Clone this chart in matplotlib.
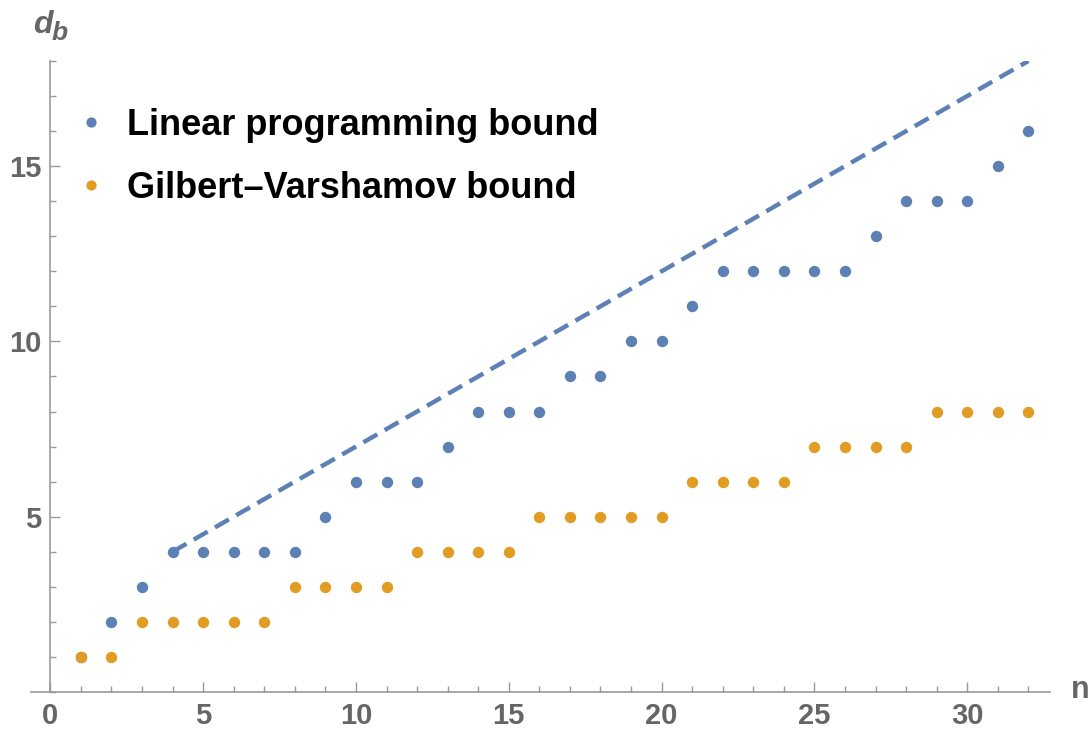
import matplotlib.pyplot as plt
from matplotlib.ticker import MultipleLocator

n = list(range(1, 33))
lp_bound = [1, 2, 3, 4, 4, 4, 4, 4, 5, 6, 6, 6, 7, 8, 8, 8,
            9, 9, 10, 10, 11, 12, 12, 12, 12, 12, 13, 14, 14, 14, 15, 16]
gv_bound = [1, 1, 2, 2, 2, 2, 2, 3, 3, 3, 3, 4, 4, 4, 4, 5,
            5, 5, 5, 5, 6, 6, 6, 6, 7, 7, 7, 7, 8, 8, 8, 8]
line_n = [4, 32]
line_d = [4, 18]

blue = '#5E81B5'
orange = '#E19C24'
gray = '#666666'

plt.rcParams['font.family'] = ['Liberation Sans', 'DejaVu Sans']
plt.rcParams['font.weight'] = 'bold'

fig = plt.figure(figsize=(10.92, 7.29), dpi=100)
ax = fig.add_axes([0.0284, 0.0508, 0.933, 0.8656])

ax.plot(line_n, line_d, color=blue, lw=3.2, ls=(0, (3.6, 1.9)), zorder=2)
ax.plot(n, lp_bound, 'o', color=blue, ms=8.2, mew=0, zorder=3,
        label='Linear programming bound')
ax.plot(n, gv_bound, 'o', color=orange, ms=8.2, mew=0, zorder=4,
        label='Gilbert\u2013Varshamov bound')

ax.set_xlim(-0.63, 32.7)
ax.set_ylim(0, 18)

for s in ['top', 'right']:
    ax.spines[s].set_visible(False)
ax.spines['left'].set_position(('data', 0))
ax.spines['bottom'].set_position(('data', 0))
for s in ['left', 'bottom']:
    ax.spines[s].set_color('#999999')
    ax.spines[s].set_linewidth(1.2)

ax.xaxis.set_major_locator(MultipleLocator(5))
ax.xaxis.set_minor_locator(MultipleLocator(1))
ax.yaxis.set_minor_locator(MultipleLocator(1))
ax.set_yticks([5, 10, 15])
ax.tick_params(which='both', direction='in', color='#999999', width=1,
               labelsize=21, labelcolor=gray)
ax.tick_params(which='major', length=7)
ax.tick_params(which='minor', length=4)
ax.tick_params(axis='x', pad=7)
ax.tick_params(axis='y', pad=6.5)

fig.text(0.030, 0.955, 'd', fontsize=23, color=gray, fontweight='bold',
         fontstyle='italic', ha='left', va='baseline')
fig.text(0.0475, 0.945, 'b', fontsize=19, color=gray, fontweight='bold',
         fontstyle='italic', ha='left', va='baseline')
fig.text(0.989, 0.043, 'n', fontsize=22, color=gray, fontweight='bold',
         ha='center', va='baseline')

leg = ax.legend(loc='upper left', bbox_to_anchor=(0.009, 0.977), frameon=False,
                prop={'size': 26, 'weight': 'bold'}, handletextpad=0.5,
                labelspacing=0.78, markerscale=0.9, handlelength=1.0)

fig.savefig('out.png', dpi=100)
